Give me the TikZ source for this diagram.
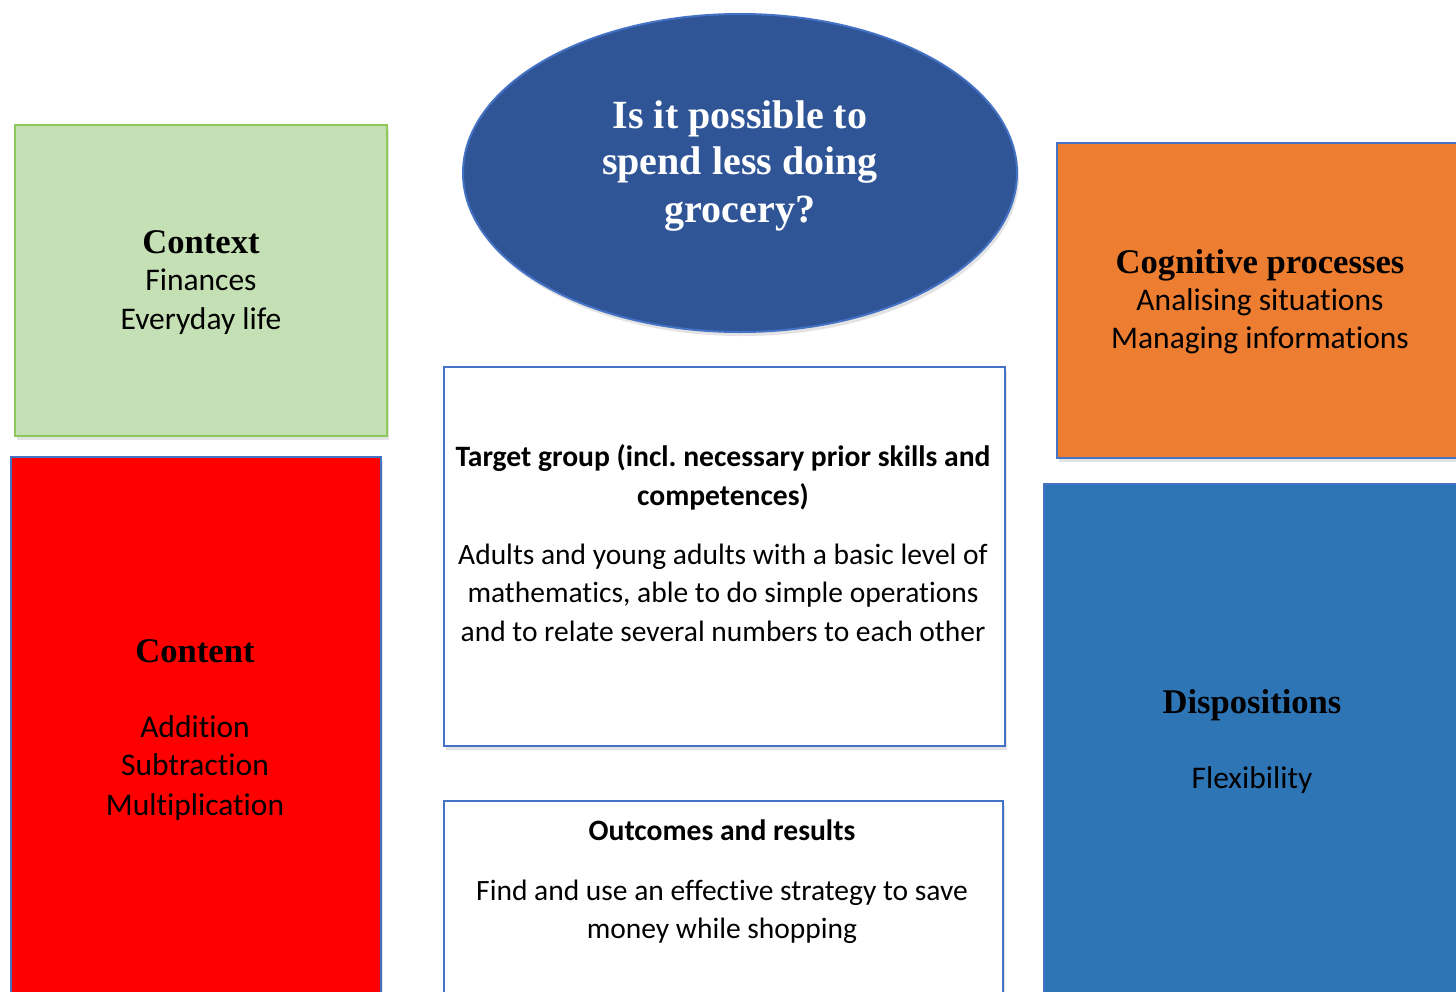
\documentclass[tikz,border=0pt]{standalone}
\usepackage{fontspec}
\setmainfont{Liberation Serif}
\newfontfamily\carl[Ligatures=NoCommon]{Carlito}
\usetikzlibrary{shapes.geometric,shadows}
\definecolor{gfill}{HTML}{C5E0B4}
\definecolor{gline}{HTML}{8CC95A}
\definecolor{bline}{HTML}{4472C4}
\definecolor{ofill}{HTML}{ED7D31}
\definecolor{dfill}{HTML}{2E75B6}
\definecolor{efill}{HTML}{2F5597}
\definecolor{rfill}{HTML}{FF0000}
\frenchspacing
\begin{document}
\begin{tikzpicture}[x=1pt,y=-1pt,
  shade box/.style={drop shadow={opacity=0.22, shadow xshift=2pt, shadow yshift=-4pt}},
  box/.style={rectangle, draw=bline, line width=2pt, inner sep=0pt, anchor=north west, shade box},
  ttl/.style={anchor=base, inner sep=0pt, font=\bfseries\fontsize{34.6}{40}\selectfont},
  bdy/.style={anchor=base, inner sep=0pt, font=\carl\fontsize{31.5}{38}\selectfont},
  cttl/.style={anchor=base, inner sep=0pt, font=\carl\bfseries\fontsize{29.6}{38}\selectfont},
  cbdy/.style={anchor=base, inner sep=0pt, font=\carl\fontsize{29.5}{38}\selectfont},
  qst/.style={anchor=base, inner sep=0pt, text=white, font=\bfseries\fontsize{40}{47}\selectfont}]
\useasboundingbox (0,0) rectangle (1456,991);
\clip (0,0) rectangle (1456,991);
\fill[white] (0,0) rectangle (1456,991);

% boxes
\node[box, draw=gline, fill=gfill, minimum width=372pt, minimum height=311pt] (ctx) at (14,124) {};
\node[box, fill=rfill, minimum width=370pt, minimum height=540pt] (cnt) at (10,456) {};
\node[box, fill=ofill, minimum width=410pt, minimum height=315pt] (cog) at (1056,142) {};
\node[box, fill=dfill, minimum width=420pt, minimum height=515pt] (dis) at (1043,483) {};
\node[box, fill=white, minimum width=561pt, minimum height=379pt] (tgt) at (443,366) {};
\node[box, fill=white, minimum width=559pt, minimum height=200pt] (out) at (443,800) {};
\node[ellipse, draw=bline, line width=2pt, fill=efill, minimum width=554pt, minimum height=318pt, inner sep=0pt, shade box] (q) at (740,173) {};

% question
\node[qst] (q1) at (740,128) {Is it possible to};
\node[qst] (q2) at (740,174) {spend less doing};
\node[qst] (q3) at (740,222) {grocery?};

% context
\node[ttl] (ctx1) at (201,253) {Context};
\node[bdy] (ctx2) at (201,290) {Finances};
\node[bdy] (ctx3) at (201,329) {Everyday life};

% cognitive
\node[ttl] (cog1) at (1260,273) {Cognitive processes};
\node[bdy] (cog2) at (1260,310) {Analising situations};
\node[bdy] (cog3) at (1260,348) {Managing informations};

% content
\node[ttl] (cnt1) at (195,662) {Content};
\node[bdy] (cnt2) at (195,737) {Addition};
\node[bdy] (cnt3) at (195,775) {Subtraction};
\node[bdy] (cnt4) at (195,815) {Multiplication};

% dispositions
\node[ttl] (dis1) at (1252,713) {Dispositions};
\node[bdy] (dis2) at (1252,788) {Flexibility};

% target group
\node[cttl] (tgt1) at (723,466) {Target group (incl. necessary prior skills and};
\node[cttl] (tgt2) at (723,505) {competences)};
\node[cbdy] (tgt3) at (723,564) {Adults and young adults with a basic level of};
\node[cbdy] (tgt4) at (723,602) {mathematics, able to do simple operations};
\node[cbdy] (tgt5) at (723,641) {and to relate several numbers to each other};

% outcomes
\node[cttl] (out1) at (722,840) {Outcomes and results};
\node[cbdy] (out2) at (722,900) {Find and use an effective strategy to save};
\node[cbdy] (out3) at (722,938) {money while shopping};
\end{tikzpicture}
\end{document}
